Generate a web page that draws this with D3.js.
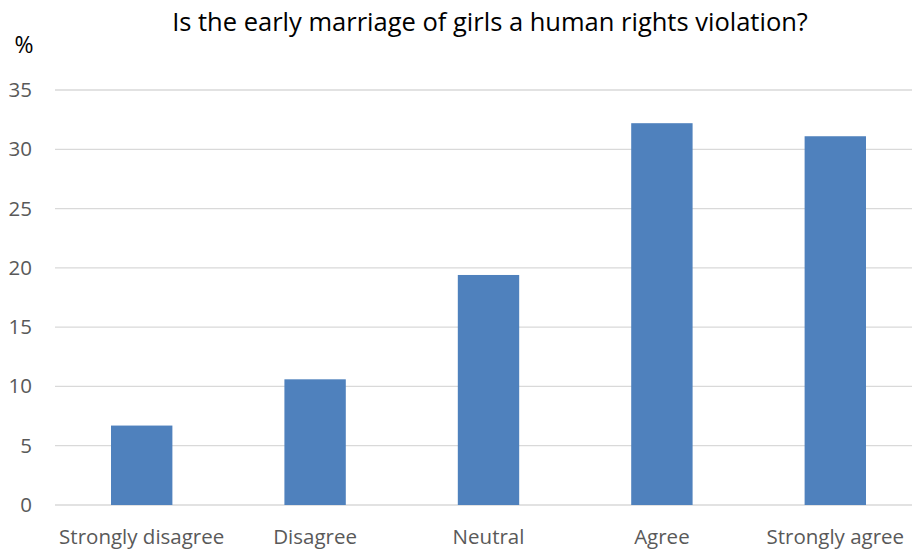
<!DOCTYPE html>
<html>
<head>
<meta charset="utf-8">
<script src="https://cdn.jsdelivr.net/npm/d3@7"></script>
<style>
  body { margin: 0; background: #fff; }
  svg { display: block; }
  .tick text { font-family: "Open Sans", sans-serif; }
</style>
</head>
<body>
<div id="chart"></div>
<script>
var categories = ["Strongly disagree", "Disagree", "Neutral", "Agree", "Strongly agree"];
var values = [6.7, 10.6, 19.4, 32.2, 31.1];
var yTicks = [0, 5, 10, 15, 20, 25, 30, 35];
var title = "Is the early marriage of girls a human rights violation?";
var yLabel = "%";

var width = 912,
  height = 550,
  margin = {top: 90, right: -10, bottom: 45, left: 55};

var svg = d3.select("#chart").append("svg")
    .attr("width", width)
    .attr("height", height);

var xScale = d3.scaleBand()
    .domain(categories)
    .range([margin.left, width - margin.right])
    .paddingInner(0.646)
    .paddingOuter(0.323);

var yScale = d3.scaleLinear()
    .domain([0, 35])
    .range([height - margin.bottom, margin.top]);

// gridlines
svg.append("g")
    .attr("class", "grid")
  .selectAll("line")
    .data(yTicks)
  .enter().append("line")
    .attr("x1", margin.left)
    .attr("x2", width - margin.right)
    .attr("y1", function(d) { return yScale(d); })
    .attr("y2", function(d) { return yScale(d); })
    .attr("stroke", "#d9d9d9")
    .attr("stroke-width", 1.3);

// bars
svg.append("g")
  .selectAll("rect")
    .data(values)
  .enter().append("rect")
    .attr("x", function(d, i) { return xScale(categories[i]); })
    .attr("width", xScale.bandwidth())
    .attr("y", function(d) { return yScale(d); })
    .attr("height", function(d) { return yScale(0) - yScale(d); })
    .attr("fill", "#4f81bd");

// y axis (labels only)
var yAxis = svg.append("g")
    .attr("transform", "translate(" + margin.left + ",0)")
    .call(d3.axisLeft(yScale).tickValues(yTicks).tickSize(0).tickPadding(23));
yAxis.select(".domain").remove();
yAxis.selectAll("text")
    .attr("fill", "#595959")
    .attr("font-size", "20.5px");

// x axis (labels only)
var xAxis = svg.append("g")
    .attr("transform", "translate(0," + yScale(0) + ")")
    .call(d3.axisBottom(xScale).tickSize(0).tickPadding(24));
xAxis.select(".domain").remove();
xAxis.selectAll("text")
    .attr("fill", "#595959")
    .attr("font-size", "20.5px");

svg.append("text")
    .attr("x", 490)
    .attr("y", 31)
    .attr("text-anchor", "middle")
    .attr("font-family", "'Open Sans', sans-serif")
    .attr("font-size", "25.5px")
    .attr("fill", "#000")
    .text(title);

svg.append("text")
    .attr("x", 24)
    .attr("y", 53)
    .attr("text-anchor", "middle")
    .attr("font-family", "'Open Sans', sans-serif")
    .attr("font-size", "23px")
    .attr("fill", "#000")
    .text(yLabel);
</script>
</body>
</html>
